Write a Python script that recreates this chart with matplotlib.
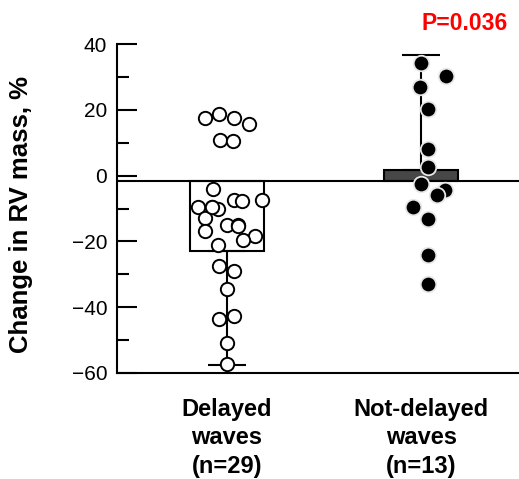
import numpy as np
import matplotlib
matplotlib.use('Agg')
import matplotlib.pyplot as plt

plt.rcParams['font.family'] = ['Liberation Sans', 'DejaVu Sans']

# data
groups = ['Delayed\nwaves\n(n=29)', 'Not-delayed\nwaves\n(n=13)']
baseline = -1.5
means = [-22.8, 1.8]
err_low = [-57.5, None]
err_high = [None, 36.7]

delayed = [17.6, 18.8, 17.6, 15.7, 10.8, 10.5,
           -4.0, -9.4, -9.4, -10.2, -7.4, -7.6, -7.4, -12.8, -16.8,
           -15.0, -15.0, -18.3, -19.5, -21.1, -9.6, -15.2,
           -27.4, -28.9, -34.5, -43.6, -42.6, -50.8, -57.2]
delayed_dx = [-0.112, -0.038, 0.038, 0.114, -0.035, 0.034,
              -0.072, -0.149, -0.077, -0.043, 0.039, 0.077, 0.183, -0.112, -0.112,
              0.0, 0.06, 0.146, 0.085, -0.043, -0.075, 0.058,
              -0.038, 0.038, 0.0, -0.038, 0.038, 0.0, 0.0]

notdelayed = [34.3, 30.3, 26.9, 20.2, 8.0, 2.7, -2.5, -4.3, -5.9, -9.4, -13.3, -24.1, -32.9]
notdelayed_dx = [0.0, 0.127, -0.005, 0.038, 0.038, 0.038, 0.0, 0.124, 0.084, -0.043, 0.038, 0.038, 0.038]

fig = plt.figure(figsize=(5.19, 4.79), dpi=100)
ax = fig.add_axes([117/519, 1-373/479, 1-117/519, 329/479])

x = np.arange(len(groups))
ax.axhline(baseline, color='black', lw=1.5, zorder=2)
ax.bar(x[0], means[0]-baseline, bottom=baseline, width=0.38, color='white',
       edgecolor='black', lw=1.5, zorder=1)
ax.bar(x[1], means[1]-baseline, bottom=baseline, width=0.38, color='#474747',
       edgecolor='black', lw=1.5, zorder=1)
ax.errorbar(x[0], means[0], yerr=[[means[0]-err_low[0]], [0]], fmt='none',
            ecolor='black', elinewidth=1.5, capsize=13.5, capthick=1.5, zorder=2)
ax.errorbar(x[1], means[1], yerr=[[0], [err_high[1]-means[1]]], fmt='none',
            ecolor='black', elinewidth=1.5, capsize=14, capthick=1.5, zorder=2)

ax.plot(x[0] + np.array(delayed_dx), delayed, 'o', ms=9.6, mfc='white',
        mec='black', mew=1.4, zorder=3, ls='none')
ax.plot(x[1] + np.array(notdelayed_dx), notdelayed, 'o', ms=11.2, mfc='black',
        mec='#e8e8e8', mew=1.3, zorder=3, ls='none')

ax.set_ylim(-60, 40)
ax.set_xlim(-0.565, 1.504)
ax.set_yticks(np.arange(-60, 41, 20))
ax.set_yticks(np.arange(-50, 40, 20), minor=True)
ax.tick_params(axis='y', which='major', direction='in', length=14.4, width=1.5,
               labelsize=15, pad=7)
ax.tick_params(axis='y', which='minor', direction='in', length=8.5, width=1.5)
ax.set_xticks(x)
ax.set_xticklabels(groups, fontsize=17, fontweight='bold', linespacing=1.3)
ax.tick_params(axis='x', length=0, pad=18)

for s in ['top', 'right']:
    ax.spines[s].set_visible(False)
for s in ['left', 'bottom']:
    ax.spines[s].set_linewidth(1.5)

ax.set_ylabel('Change in RV mass, %', fontsize=18.5, fontweight='bold')
ax.yaxis.set_label_coords(-0.209, 0.483)

fig.text(465/519, 1-24/479, 'P=0.036', color='red', fontsize=16.5,
         fontweight='bold', ha='center', va='center')

fig.savefig('out.png', dpi=100)
